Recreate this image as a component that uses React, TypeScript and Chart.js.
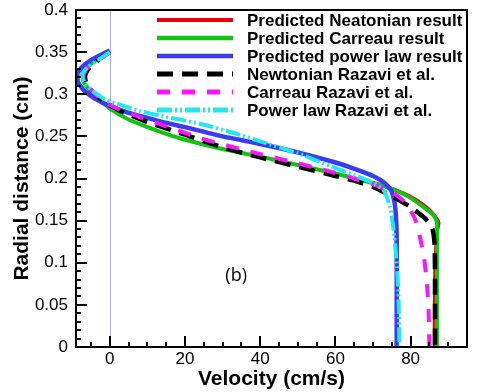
import React, { useEffect, useRef } from "react";
import { Chart, registerables } from "chart.js";

Chart.register(...registerables);

const FONT = "'Liberation Sans', Arial, Helvetica, sans-serif";

// Velocity (cm/s) / radial distance (cm) pairs
const newtPredV = [0, -3, -6, -7.3, -7, -5, -2.5, 0, 5, 10, 15, 20, 30, 40, 50, 60, 66, 72, 76, 80, 83.5, 86, 87.6, 86.8, 86.3, 86.2];
const newtPredR = [0.35, 0.342, 0.333, 0.325, 0.315, 0.303, 0.293, 0.283, 0.27, 0.261, 0.253, 0.246, 0.235, 0.226, 0.216, 0.206, 0.2, 0.193, 0.187, 0.179, 0.169, 0.159, 0.148, 0.13, 0.08, 0];

const carPredV = [0, -3, -6, -7.3, -7, -5, -2.5, 0, 5, 10, 15, 20, 30, 40, 50, 60, 66, 72, 76, 80, 83.5, 86, 87, 87, 87, 87];
const carPredR = [0.35, 0.342, 0.333, 0.325, 0.315, 0.303, 0.293, 0.283, 0.27, 0.261, 0.253, 0.246, 0.235, 0.226, 0.216, 0.206, 0.199, 0.192, 0.186, 0.177, 0.166, 0.157, 0.148, 0.12, 0.06, 0];

const powPredV = [0, -4, -7, -8.6, -8.4, -6.5, -4, 0, 5, 10, 15, 20, 30, 40, 50, 60, 66, 70, 73, 74.8, 75.7, 76.1, 76.3, 76.3, 76.3];
const powPredR = [0.352, 0.343, 0.334, 0.325, 0.314, 0.303, 0.295, 0.286, 0.278, 0.272, 0.266, 0.261, 0.25, 0.241, 0.231, 0.219, 0.21, 0.203, 0.195, 0.186, 0.172, 0.155, 0.13, 0.06, 0];

const newtRazV = [0, -3, -5.5, -6.6, -6.2, -4, -1, 2, 5, 10, 20, 30, 40, 50, 60, 66, 70, 75, 80, 84, 85.8, 86.4, 86.5, 86.5];
const newtRazR = [0.35, 0.341, 0.331, 0.322, 0.312, 0.3, 0.29, 0.282, 0.276, 0.267, 0.252, 0.237, 0.225, 0.214, 0.203, 0.196, 0.19, 0.179, 0.166, 0.152, 0.14, 0.12, 0.05, 0];

const carRazV = [0, -3, -6, -7, -6.3, -4, -1, 2, 6, 15, 24, 33, 40, 50, 58, 65, 70, 75, 78, 80, 81.5, 82.5, 83.5, 84.3, 84.8, 85];
const carRazR = [0.35, 0.341, 0.331, 0.322, 0.312, 0.3, 0.29, 0.283, 0.276, 0.262, 0.248, 0.237, 0.229, 0.218, 0.209, 0.2, 0.193, 0.184, 0.174, 0.162, 0.148, 0.13, 0.108, 0.078, 0.04, 0];

const powRazV = [0, -3, -6, -7.3, -6.5, -4, -1, 3, 8, 15, 24, 33, 40, 50, 59, 65, 70, 73, 74.5, 75.2, 75.7, 76.4, 76.8, 77];
const powRazR = [0.35, 0.341, 0.332, 0.323, 0.312, 0.302, 0.293, 0.287, 0.28, 0.273, 0.265, 0.254, 0.244, 0.23, 0.214, 0.204, 0.195, 0.185, 0.166, 0.148, 0.13, 0.095, 0.055, 0];

const seriesLabels = [
  "Predicted Neatonian result",
  "Predicted Carreau result",
  "Predicted power law result",
  "Newtonian Razavi et al.",
  "Carreau Razavi et al.",
  "Power law Razavi et al.",
];

const xTickValues = [0, 20, 40, 60, 80];
const yTickValues = [0, 0.05, 0.1, 0.15, 0.2, 0.25, 0.3, 0.35, 0.4];
const yTickLabels = ["0", "0.05", "0.1", "0.15", "0.2", "0.25", "0.3", "0.35", "0.4"];
const xMin = -9;
const xMax = 95;
const yMin = 0;
const yMax = 0.4;
const xMinorStep = 5;
const yMinorStep = 0.01;
const panelLabel = "(b)";

const pts = (vs: number[], rs: number[]) => vs.map((v, i) => ({ x: v, y: rs[i] }));

const decorPlugin = {
  id: "decor",
  beforeDatasetsDraw(chart: any) {
    const { ctx, chartArea, scales } = chart;
    const px = Math.round(scales.x.getPixelForValue(0)) + 0.5;
    ctx.save();
    ctx.strokeStyle = "#9fb4cd";
    ctx.lineWidth = 1;
    ctx.beginPath();
    ctx.moveTo(px, chartArea.top);
    ctx.lineTo(px, chartArea.bottom);
    ctx.stroke();
    ctx.restore();
  },
  afterDatasetsDraw(chart: any) {
    const { ctx, chartArea, scales } = chart;
    const { left, right, top, bottom } = chartArea;
    ctx.save();
    ctx.strokeStyle = "#000";
    ctx.lineWidth = 2;
    ctx.beginPath();
    // x ticks
    for (let k = Math.ceil(xMin / xMinorStep); k * xMinorStep <= xMax + 1e-9; k++) {
      const v = k * xMinorStep;
      const major = xTickValues.some((t) => Math.abs(t - v) < 1e-9);
      const p = Math.round(scales.x.getPixelForValue(v));
      ctx.moveTo(p, bottom);
      ctx.lineTo(p, bottom - (major ? 11 : 5));
    }
    for (let k = Math.ceil(yMin / yMinorStep); k * yMinorStep <= yMax + 1e-9; k++) {
      const v = k * yMinorStep;
      const major = yTickValues.some((t) => Math.abs(t - v) < 1e-9);
      const p = Math.round(scales.y.getPixelForValue(v));
      ctx.moveTo(left, p);
      ctx.lineTo(left + (major ? 11 : 5), p);
    }
    ctx.stroke();
    ctx.lineWidth = 2;
    ctx.strokeRect(left, top, right - left, bottom - top);
    ctx.restore();
  },
  afterDraw(chart: any) {
    const { ctx, scales } = chart;
    ctx.save();
    // legend
    chart.data.datasets.forEach((ds: any, i: number) => {
      const y = 20 + i * 18;
      ctx.strokeStyle = ds.borderColor;
      ctx.lineWidth = ds.legendWidth;
      ctx.setLineDash(ds.borderDash || []);
      ctx.beginPath();
      ctx.moveTo(157, y);
      ctx.lineTo(233, y);
      ctx.stroke();
      ctx.setLineDash([]);
      ctx.fillStyle = "#000";
      ctx.font = `bold 17px ${FONT}`;
      ctx.textBaseline = "middle";
      ctx.textAlign = "left";
      ctx.fillText(ds.label, 247, y + 1);
    });
    // panel label
    ctx.font = `18px 'Open Sans', 'Noto Sans', sans-serif`;
    ctx.fillStyle = "#000";
    ctx.textAlign = "center";
    ctx.textBaseline = "middle";
    ctx.fillText(panelLabel, scales.x.getPixelForValue(33.6), scales.y.getPixelForValue(0.084));
    ctx.restore();
  },
};

export default function App() {
  const canvasRef = useRef<HTMLCanvasElement | null>(null);

  useEffect(() => {
    const canvas = canvasRef.current;
    if (!canvas) return;
    const mk = (
      i: number,
      data: { x: number; y: number }[],
      color: string,
      width: number,
      legendWidth: number,
      dash: number[] | undefined
    ) => ({
      label: seriesLabels[i],
      data,
      borderColor: color,
      backgroundColor: color,
      borderWidth: width,
      legendWidth,
      borderDash: dash,
      pointRadius: 0,
      fill: false,
      tension: 0.2,
      order: 6 - i,
    });
    const chart = new Chart(canvas, {
      type: "line",
      data: {
        datasets: [
          mk(0, pts(newtPredV, newtPredR), "#e8000a", 2.5, 4, undefined),
          mk(1, pts(carPredV, carPredR), "#12c412", 4, 4.5, undefined),
          mk(2, pts(powPredV, powPredR), "#3b3bf2", 4.5, 4.5, undefined),
          mk(3, pts(newtRazV, newtRazR), "#000000", 4.5, 5, [16, 9]),
          mk(4, pts(carRazV, carRazR), "#ff14ff", 4, 5, [13, 12]),
          mk(5, pts(powRazV, powRazR), "#1ee8f2", 4, 5, [15, 3, 2, 3, 2, 3]),
        ] as any,
      },
      options: {
        responsive: false,
        animation: false,
        events: [],
        layout: { padding: { left: 0, top: 10, right: 13, bottom: 0 } },
        plugins: { legend: { display: false }, tooltip: { enabled: false } },
        scales: {
          x: {
            type: "linear",
            min: xMin,
            max: xMax,
            grid: { display: false, drawTicks: false },
            border: { display: false },
            afterBuildTicks: (s: any) => {
              s.ticks = xTickValues.map((v) => ({ value: v }));
            },
            afterFit: (s: any) => {
              s.height = 45;
              s.paddingLeft = 0;
              s.paddingRight = 0;
            },
            ticks: {
              padding: 2,
              color: "#000",
              font: { size: 17, family: FONT },
              maxRotation: 0,
              autoSkip: false,
              callback: (v: any) => String(v),
            },
            title: {
              display: true,
              text: "Velocity (cm/s)",
              color: "#000",
              font: { size: 21, weight: "bold", family: FONT },
              padding: { top: 0, bottom: 0 },
            },
          },
          y: {
            type: "linear",
            min: yMin,
            max: yMax,
            grid: { display: false, drawTicks: false },
            border: { display: false },
            afterBuildTicks: (s: any) => {
              s.ticks = yTickValues.map((v) => ({ value: v }));
            },
            afterFit: (s: any) => {
              s.width = 76;
              s.paddingTop = 0;
              s.paddingBottom = 0;
            },
            ticks: {
              padding: 8,
              color: "#000",
              font: { size: 17, family: FONT },
              autoSkip: false,
              callback: (v: any, idx: number) => yTickLabels[idx],
            },
            title: {
              display: true,
              text: "Radial distance (cm)",
              color: "#000",
              font: { size: 21, weight: "bold", family: FONT },
              padding: { top: 10, bottom: 0 },
            },
          },
        },
      } as any,
      plugins: [decorPlugin],
    });
    return () => chart.destroy();
  }, []);

  return (
    <div style={{ position: "absolute", left: 0, top: 0, width: 480, height: 392, background: "#fff" }}>
      <canvas ref={canvasRef} width={480} height={392} style={{ display: "block", width: 480, height: 392 }} />
    </div>
  );
}
